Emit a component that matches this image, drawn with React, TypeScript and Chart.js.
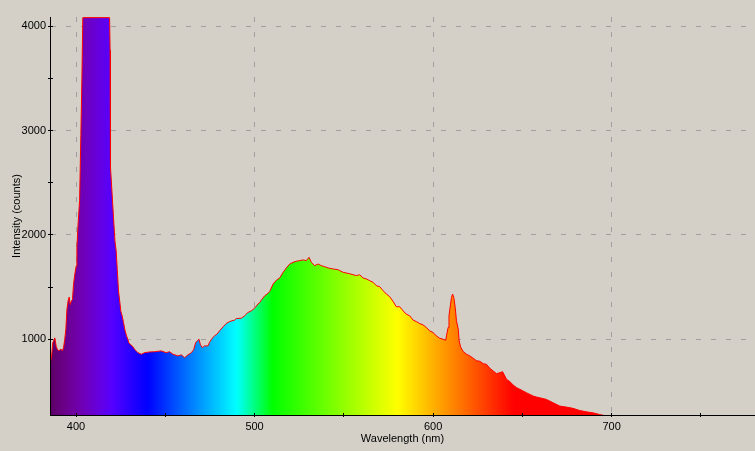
import React, { useEffect, useRef } from 'react';
import { Chart, registerables } from 'chart.js';

Chart.register(...registerables);

// ---- data ----
const wavelengths = [
  385.4, 386.3, 387.0, 388.1, 388.9, 389.6, 390.5, 391.5, 392.3, 393.0, 393.7, 394.3, 394.9, 395.6, 396.2, 396.7,
  397.5, 398.0, 398.6, 399.3, 400.1, 400.5, 401.2, 402.0, 402.7, 403.3, 403.8, 418.8, 419.1, 419.3, 420.5, 421.0,
  421.8, 422.5, 423.1, 423.8, 424.6, 425.1, 425.9, 426.6, 427.5, 428.3, 429.0, 429.6, 430.4, 431.5, 432.8, 434.7,
  436.6, 438.4, 441.2, 444.0, 447.7, 450.5, 452.4, 454.3, 457.1, 459.0, 460.8, 462.7, 464.6, 465.9, 467.0, 467.9,
  468.9, 469.6, 470.7, 472.0, 473.9, 474.8, 476.3, 477.6, 478.9, 480.4, 482.3, 484.1, 486.0, 488.8, 489.8, 492.6,
  494.4, 496.3, 498.2, 500.1, 501.9, 502.9, 503.8, 505.7, 507.1, 508.5, 510.4, 512.3, 514.1, 516.0, 517.8, 519.7,
  521.6, 523.4, 525.3, 527.1, 529.0, 530.5, 531.8, 533.7, 535.6, 537.4, 539.3, 541.2, 544.0, 546.8, 549.6, 552.4,
  555.2, 557.1, 558.9, 560.8, 562.6, 564.5, 566.4, 568.2, 570.1, 572.0, 573.8, 575.7, 577.6, 579.4, 581.3, 583.2,
  585.0, 586.9, 588.8, 590.6, 592.5, 594.4, 596.2, 598.1, 600.0, 601.8, 603.7, 605.6, 607.1, 607.5, 608.4, 608.9,
  609.4, 610.3, 610.9, 611.6, 612.4, 613.1, 614.1, 614.6, 615.4, 616.9, 618.7, 620.6, 622.5, 624.3, 626.2, 628.1,
  629.9, 631.8, 633.7, 635.5, 637.4, 638.9, 640.2, 641.1, 643.0, 644.9, 646.7, 648.6, 650.5, 652.3, 654.2, 656.1,
  657.9, 659.8, 663.5, 667.3, 671.0, 674.7, 678.4, 682.1, 685.8, 689.6, 693.3, 696.1, 697.5, 700.0, 780.0,
];

const intensities = [
  756, 837, 965, 1013, 933, 900, 890, 905, 890, 917, 1000, 1093, 1285, 1372, 1404, 1333,
  1370, 1381, 1525, 1621, 1702, 1878, 2118, 2327, 2952, 3496, 4082, 4082, 3769, 2650, 2311, 2166,
  1942, 1846, 1670, 1462, 1349, 1269, 1221, 1160, 1080, 1032, 1000, 965, 950, 936, 904, 871,
  856, 871, 878, 880, 888, 871, 880, 856, 840, 850, 823, 850, 871, 900, 967, 984,
  1000, 952, 919, 936, 936, 971, 1010, 1032, 1048, 1080, 1118, 1150, 1169, 1183, 1198, 1201,
  1224, 1256, 1272, 1298, 1337, 1352, 1375, 1417, 1433, 1458, 1529, 1567, 1587, 1641, 1683, 1721,
  1737, 1747, 1753, 1760, 1753, 1785, 1737, 1705, 1721, 1705, 1695, 1683, 1673, 1666, 1641, 1631,
  1618, 1609, 1618, 1587, 1577, 1561, 1545, 1513, 1503, 1465, 1433, 1407, 1362, 1311, 1311, 1272,
  1240, 1224, 1183, 1169, 1150, 1137, 1112, 1080, 1064, 1032, 1009, 1000, 990, 1032, 1112, 1224,
  1289, 1400, 1433, 1400, 1304, 1176, 1096, 984, 926, 881, 856, 840, 817, 794, 788, 765,
  759, 721, 695, 670, 679, 689, 647, 616, 593, 561, 536, 520, 503, 487, 471, 455,
  446, 438, 423, 390, 359, 349, 337, 317, 304, 294, 278, 268, 255, 240, 240,
];

// ticks: majors carry a label and a grid line, minors only a tick mark
const xTickValues = [400, 450, 500, 550, 600, 650, 700, 750];
const xMajorTicks = [400, 500, 600, 700];
const yTickValues = [1000, 1500, 2000, 2500, 3000, 3500, 4000];
const yMajorTicks = [1000, 2000, 3000, 4000];

const xMin = 385.43;
const xMax = 780.3;
const yMin = 273.5;
const yMax = 4088;
const xTitle = 'Wavelength (nm)';
const yTitle = 'Intensity (counts)';

// visible-spectrum colour for a wavelength (style only)
function wavelengthColor(w: number): string {
  let r = 0, g = 0, b = 0;
  if (w < 440) { r = (440 - w) / 60; b = 1; }
  else if (w < 490) { g = (w - 440) / 50; b = 1; }
  else if (w < 510) { g = 1; b = (510 - w) / 20; }
  else if (w < 580) { r = (w - 510) / 70; g = 1; }
  else if (w < 645) { r = 1; g = (645 - w) / 65; }
  else { r = 1; }
  let f = 1;
  if (w < 420) f = 0.3 + (0.7 * (w - 380)) / 40;
  else if (w > 700) f = 0.3 + (0.7 * (780 - w)) / 80;
  const c = (v: number) => Math.max(0, Math.min(255, Math.round(v * f * 255)));
  return `rgb(${c(r)},${c(g)},${c(b)})`;
}

const BG = '#d4d0c8';
const GRID = '#a0a0a0';
const FONT = { family: "'Liberation Sans', Arial, sans-serif", size: 11 };

const innerTicks = {
  id: 'innerTicks',
  afterDatasetsDraw(chart: any) {
    const { ctx, chartArea, scales } = chart;
    const x = scales.x, y = scales.y;
    const al = (p: number) => Math.round(p - 0.5) + 0.5;
    ctx.save();
    ctx.strokeStyle = '#000';
    ctx.lineWidth = 1;
    ctx.setLineDash([]);
    ctx.beginPath();
    x.ticks.forEach((t: any) => {
      const px = al(x.getPixelForValue(t.value));
      ctx.moveTo(px, chartArea.bottom - 2);
      ctx.lineTo(px, chartArea.bottom);
    });
    y.ticks.forEach((t: any) => {
      const py = al(y.getPixelForValue(t.value));
      ctx.moveTo(chartArea.left, py);
      ctx.lineTo(chartArea.left + 3, py);
    });
    ctx.stroke();
    ctx.restore();
  },
};

export default function App() {
  const ref = useRef<HTMLCanvasElement | null>(null);

  useEffect(() => {
    document.body.style.margin = '0';
    document.body.style.background = BG;
    const canvas = ref.current;
    if (!canvas) return;
    const points = wavelengths.map((w, i) => ({ x: w, y: intensities[i] }));

    const chart = new Chart(canvas, {
      type: 'line',
      data: {
        datasets: [
          {
            data: points,
            borderColor: '#ff0000',
            borderWidth: 1,
            pointRadius: 0,
            tension: 0,
            fill: 'start',
            backgroundColor: (c: any) => {
              const ch = c.chart;
              if (!ch.chartArea) return 'rgba(0,0,0,0)';
              const xs = ch.scales.x;
              const x0 = xs.getPixelForValue(380);
              const x1 = xs.getPixelForValue(780);
              const grad = ch.ctx.createLinearGradient(x0, 0, x1, 0);
              for (let w = 380; w <= 780; w += 2) {
                grad.addColorStop((w - 380) / 400, wavelengthColor(w));
              }
              return grad;
            },
          },
        ],
      },
      options: {
        responsive: false,
        animation: false,
        events: [],
        layout: { padding: { top: 17, right: 0, left: 0, bottom: 0 } },
        plugins: { legend: { display: false }, tooltip: { enabled: false }, title: { display: false } },
        scales: {
          x: {
            type: 'linear',
            min: xMin,
            max: xMax,
            afterBuildTicks: (s: any) => { s.ticks = xTickValues.map((v) => ({ value: v })); },
            afterFit: (s: any) => { s.height = 36; },
            ticks: {
              autoSkip: false,
              maxRotation: 0,
              padding: 3,
              color: '#000',
              font: FONT,
              callback: (v: any) => (xMajorTicks.includes(Number(v)) ? String(v) : ''),
            },
            grid: {
              color: (c: any) => (c.tick && xMajorTicks.includes(c.tick.value) ? GRID : 'rgba(0,0,0,0)'),
              tickColor: '#000',
              tickLength: 2,
              lineWidth: 1,
            },
            border: { display: true, color: '#000', width: 1, dash: [5, 10], z: 1 },
            title: { display: true, text: xTitle, color: '#000', font: FONT, padding: { top: 0, bottom: 5 } },
          },
          y: {
            type: 'linear',
            min: yMin,
            max: yMax,
            afterBuildTicks: (s: any) => { s.ticks = yTickValues.map((v) => ({ value: v })); },
            afterFit: (s: any) => { s.width = 50; },
            ticks: {
              autoSkip: false,
              padding: 2,
              color: '#000',
              font: FONT,
              callback: (v: any) => (yMajorTicks.includes(Number(v)) ? String(v) : ''),
            },
            grid: {
              color: (c: any) => (c.tick && yMajorTicks.includes(c.tick.value) ? GRID : 'rgba(0,0,0,0)'),
              tickColor: '#000',
              tickLength: 2,
              lineWidth: 1,
            },
            border: { display: true, color: '#000', width: 1, dash: [5, 10], z: 1 },
            title: { display: true, text: yTitle, color: '#000', font: FONT, padding: { top: 10, bottom: 0 } },
          },
        },
      },
      plugins: [innerTicks],
    } as any);

    return () => chart.destroy();
  }, []);

  return (
    <div style={{ width: 755, height: 451, background: BG }}>
      <canvas ref={ref} width={755} height={451} style={{ display: 'block', width: 755, height: 451 }} />
    </div>
  );
}
